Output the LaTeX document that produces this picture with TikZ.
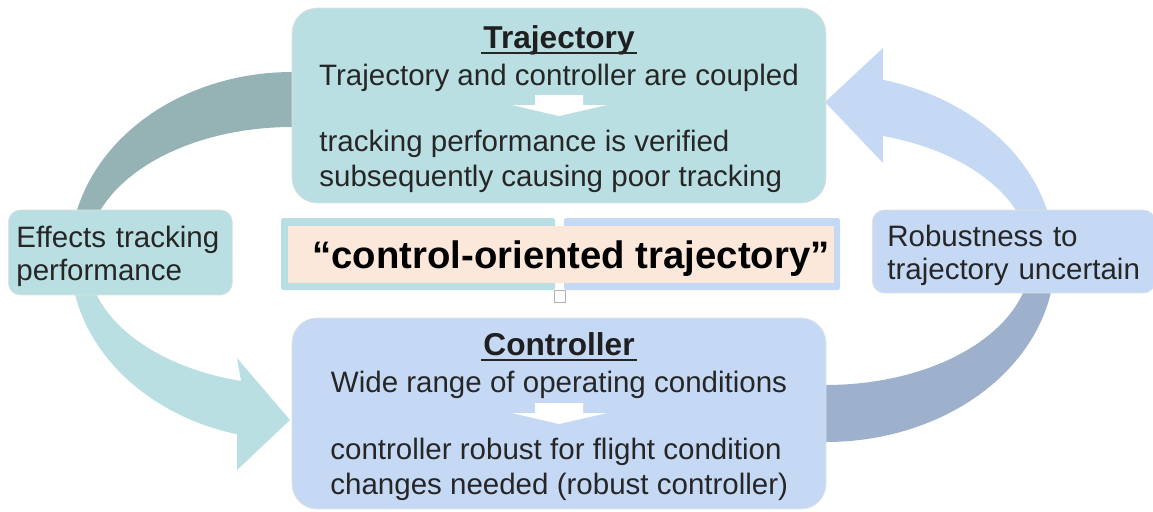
\documentclass[tikz,border=0pt]{standalone}
\usepackage{fontspec}
\setmainfont{Liberation Sans}
\usepackage{tikz}
\usetikzlibrary{calc}

\definecolor{tealbox}{RGB}{185,223,226}
\definecolor{bluebox}{RGB}{197,217,245}
\definecolor{tealdark}{RGB}{149,179,181}
\definecolor{bluedark}{RGB}{157,176,204}
\definecolor{peach}{RGB}{252,232,218}
\definecolor{txtgray}{RGB}{38,38,38}

\tikzset{
  bigbox/.style={rounded corners=0.5cm, draw=black!12, line width=0.4pt,
    minimum width=10.68cm, minimum height=3.9cm, inner sep=0pt},
  sidebox/.style={rounded corners=0.24cm, draw=black!12, line width=0.4pt,
    anchor=west, align=left, inner ysep=0pt, text=txtgray,
    font=\fontsize{16.8}{18.8}\selectfont},
  head/.style={font=\fontsize{18}{20}\selectfont\bfseries, text=black!88, inner sep=0pt},
  body/.style={font=\fontsize{16.8}{19.8}\selectfont, text=txtgray, inner sep=0pt},
  whitearrow/.style={fill=white},
}

\begin{document}
\begin{tikzpicture}[x=0.02cm, y=-0.02cm]
	\useasboundingbox (0,0) rectangle (1153,511);

	% curved arrow on the left
	\fill[tealdark] (300,72) -- plot[domain=90:180,samples=40] ({292+222*cos(\x)},{256-184*sin(\x)})
		-- plot[domain=180:90,samples=40] ({292+205*cos(\x)},{256-129*sin(\x)}) -- (300,127) -- cycle;
	\fill[tealbox] plot[domain=180:255.7,samples=40] ({292+222*cos(\x)},{256-184*sin(\x)})
		-- (237,470) -- (290,420) -- (237,358)
		-- plot[domain=255.6:180,samples=40] ({292+205*cos(\x)},{256-129*sin(\x)}) -- cycle;

	% curved arrow on the right
	\fill[bluedark] (818,442) -- plot[domain=-90:0,samples=40] ({826+229*cos(\x)},{258-184*sin(\x)})
		-- plot[domain=0:-90,samples=40] ({826+205*cos(\x)},{258-127*sin(\x)}) -- (818,385) -- cycle;
	\fill[bluebox] plot[domain=0:75.6,samples=40] ({826+229*cos(\x)},{258-184*sin(\x)})
		-- (883,48) -- (825,102) -- (883,163)
		-- plot[domain=73.9:0,samples=40] ({826+205*cos(\x)},{258-127*sin(\x)}) -- cycle;

	% top and bottom boxes
	\node[bigbox, fill=tealbox] (traj) at (559,105.5) {};
	\node[bigbox, fill=bluebox, minimum height=3.82cm] (ctrl) at (559,413.5) {};

	\node[head, anchor=base] (ttl) at (559,48) {Trajectory};
	\draw[line width=1.1pt, black!85] ($(ttl.base west)+(-2,5)$) -- ($(ttl.base east)+(2,5)$);
	\node[body] (coupled) at (559,77.5) {Trajectory and controller are coupled};
	\fill[whitearrow] (535,95) -- (583,95) -- (583,105) -- (607,105) -- (559,116) -- (512,105) -- (535,105) -- cycle;
	\node[body, anchor=west, align=left] (verified) at (319,161)
		{tracking performance is verified\\subsequently causing poor tracking};

	\node[head, anchor=base] (ctl) at (559,355) {Controller};
	\draw[line width=1.1pt, black!85] ($(ctl.base west)+(-2,5)$) -- ($(ctl.base east)+(2,5)$);
	\node[body] (wide) at (559,385) {Wide range of operating conditions};
	\fill[whitearrow] (535,403) -- (583,403) -- (583,413) -- (607,413) -- (559,424) -- (512,413) -- (535,413) -- cycle;
	\node[body, anchor=west, align=left] (robust) at (330,469)
		{controller robust for flight condition\\changes needed (robust controller)};

	% middle box
	\fill[tealbox, rounded corners=1pt] (281,218) rectangle (555,290);
	\fill[bluebox, rounded corners=1pt] (564,218) rectangle (840,290);
	\fill[peach] (288,226) rectangle (834,283);
	\draw[black!30, fill=white] (554,290) rectangle (565,302);
	\node[font=\fontsize{21.8}{24}\selectfont\bfseries, inner sep=0pt] (cot) at (571,258.5)
		{“control-oriented trajectory”};

	% labels on the arrows
	\node[sidebox, fill=tealbox, minimum width=4.48cm, minimum height=1.7cm,
		text width=4.16cm, inner xsep=0.16cm] (effects) at (8,252.5) {\rule{0pt}{16.8pt}Effects tracking\\performance};
	\node[sidebox, fill=bluebox, minimum width=5.66cm, minimum height=1.66cm,
		text width=5.06cm, inner xsep=0.3cm] (robustness) at (872,251.5) {\rule{0pt}{16.8pt}Robustness to\\trajectory uncertain};
\end{tikzpicture}
\end{document}
